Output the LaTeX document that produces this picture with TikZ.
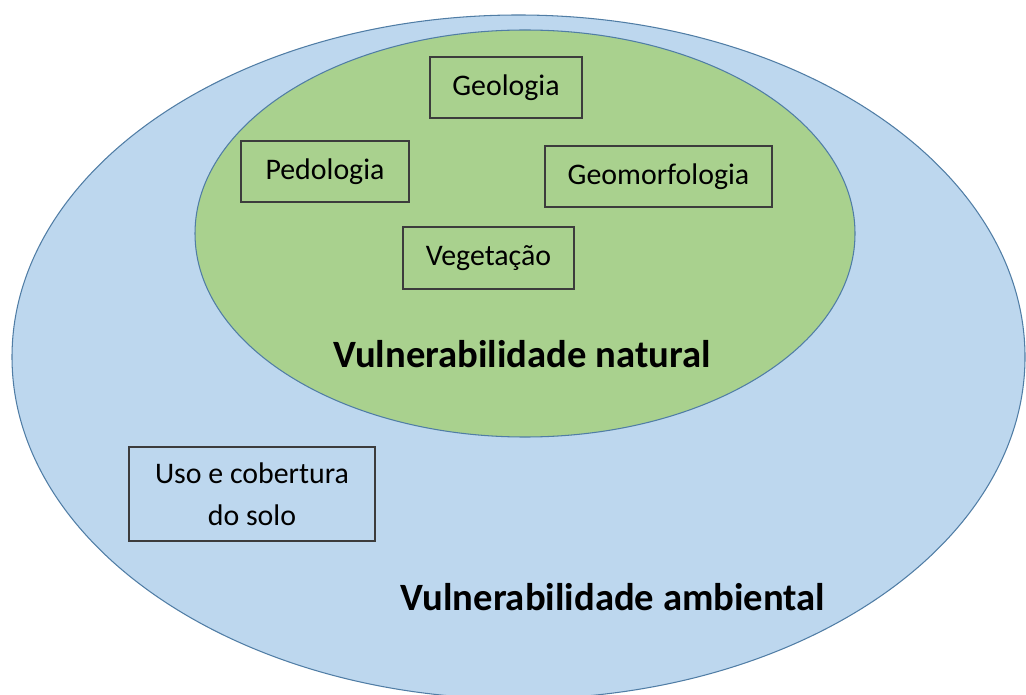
\documentclass[tikz,border=0pt]{standalone}
\usepackage{fontspec}
\setmainfont{Carlito}
\usetikzlibrary{positioning}
\definecolor{ambc}{RGB}{189,215,238}
\definecolor{natc}{RGB}{169,209,142}
\definecolor{ambl}{RGB}{80,125,165}
\definecolor{boxl}{RGB}{60,60,60}
\tikzset{fator/.style={draw=boxl,line width=1.1pt,minimum height=1.22cm,inner sep=2pt,font=\fontsize{17}{20}\selectfont,align=center},
 area/.style={draw=ambl,line width=.6pt},
 rotulo/.style={font=\fontsize{22}{26}\selectfont\bfseries}}
\begin{document}
\begin{tikzpicture}[x=.02cm,y=-.02cm]
\useasboundingbox (0,0) rectangle (1026,695);
\draw[area,fill=ambc] (518.5,357) ellipse [x radius=506.5,y radius=342];
\draw[area,fill=natc] (525,233.5) ellipse [x radius=330,y radius=203.5];
\node[fator,minimum width=3.04cm] (geo) at (506,87.5) {Geologia};
\node[fator,minimum width=3.36cm] (ped) at (325,171.5) {Pedologia};
\node[fator,minimum width=4.54cm] (geomorf) at (658.5,176.5) {Geomorfologia};
\node[fator,minimum width=3.42cm,minimum height=1.24cm] (veg) at (488.5,258) {Vegetação};
\node[fator,minimum width=4.92cm,minimum height=1.88cm,font=\fontsize{17}{24}\selectfont] (uso) at (252,494) {Uso e cobertura\\do solo};
\node[rotulo] (nat) at (522,354) {Vulnerabilidade natural};
\node[rotulo] (amb) at (613,597) {Vulnerabilidade ambiental};
\end{tikzpicture}
\end{document}
